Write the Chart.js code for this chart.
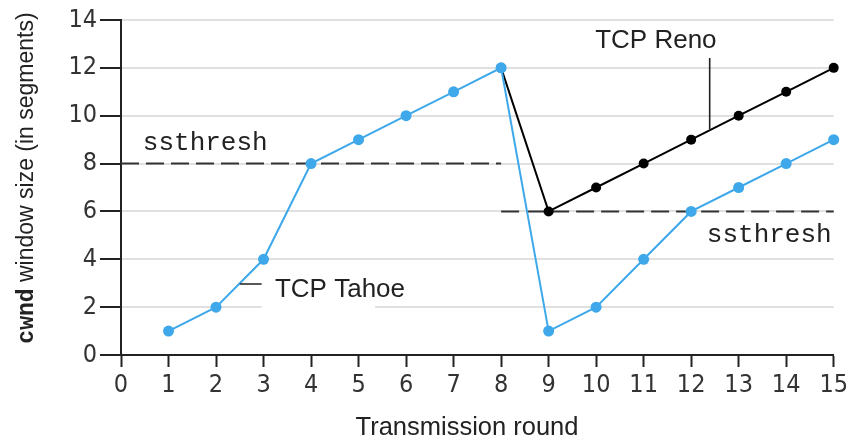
<!DOCTYPE html>
<html>
<head>
<meta charset="utf-8">
<script src="https://cdn.jsdelivr.net/npm/chart.js@4.4.0/dist/chart.umd.min.js"></script>
<style>
  html, body { margin: 0; padding: 0; background: #fff; }
  #wrap { width: 851px; height: 439px; }
</style>
</head>
<body>
<div id="wrap"><canvas id="cwndChart" width="851" height="439"></canvas></div>
<script>
// transmission rounds and congestion window sizes
const rounds = [1, 2, 3, 4, 5, 6, 7, 8, 9, 10, 11, 12, 13, 14, 15];
const tahoeCwnd = [1, 2, 4, 8, 9, 10, 11, 12, 1, 2, 4, 6, 7, 8, 9];
const renoRounds = [8, 9, 10, 11, 12, 13, 14, 15];
const renoCwnd = [12, 6, 7, 8, 9, 10, 11, 12];

// ssthresh levels: [from round, to round, value]
const ssthreshFrom = [0, 8];
const ssthreshTo = [8, 15];
const ssthreshLevel = [8, 6];

const xTicks = [0, 1, 2, 3, 4, 5, 6, 7, 8, 9, 10, 11, 12, 13, 14, 15];
const yTicks = [0, 2, 4, 6, 8, 10, 12, 14];

const BLUE = '#3ea8ea';
const INK = '#222';
const TICK_FONT = "'DejaVu Sans Condensed', 'Liberation Sans Narrow', 'DejaVu Sans', sans-serif";
const SANS = "'Liberation Sans', Arial, sans-serif";
const MONO = "'Liberation Mono', 'Courier New', monospace";

function toPoints(xs, ys) {
    return xs.map((x, i) => ({ x: x, y: ys[i] }));
}

const ssthreshSets = ssthreshLevel.map((lvl, i) => ({
    label: 'ssthresh ' + (i + 1),
    data: [{ x: ssthreshFrom[i], y: lvl }, { x: ssthreshTo[i], y: lvl }],
    borderColor: '#333',
    borderWidth: 2,
    borderDash: [18, 7],
    pointRadius: 0,
    order: 3
}));

// text labels, pointers and axis titles
const annotations = {
    id: 'annotations',
    beforeDatasetsDraw(chart) {
        const { ctx, scales: { x, y } } = chart;
        // the gridline at 2 is broken near the Tahoe label
        ctx.save();
        ctx.strokeStyle = '#fff';
        ctx.lineWidth = 4;
        ctx.beginPath();
        ctx.moveTo(x.getPixelForValue(2.96), y.getPixelForValue(2));
        ctx.lineTo(x.getPixelForValue(5.35), y.getPixelForValue(2));
        ctx.stroke();
        ctx.restore();
    },
    afterDatasetsDraw(chart) {
        const { ctx, scales: { x, y } } = chart;
        ctx.save();
        ctx.fillStyle = INK;
        ctx.strokeStyle = INK;
        ctx.textBaseline = 'alphabetic';
        ctx.textAlign = 'left';

        ctx.font = '26px ' + MONO;
        ctx.fillText('ssthresh', x.getPixelForValue(0.46), y.getPixelForValue(8.57));
        ctx.fillText('ssthresh', x.getPixelForValue(12.33), y.getPixelForValue(4.72));

        ctx.font = '26px ' + SANS;
        ctx.fillText('TCP Reno', x.getPixelForValue(9.98), y.getPixelForValue(12.83));
        ctx.fillText('TCP Tahoe', x.getPixelForValue(3.24), y.getPixelForValue(2.42));

        ctx.lineWidth = 1.6;
        ctx.beginPath();
        ctx.moveTo(x.getPixelForValue(12.39), y.getPixelForValue(12.41));
        ctx.lineTo(x.getPixelForValue(12.39), y.getPixelForValue(9.45));
        ctx.moveTo(x.getPixelForValue(2.5), y.getPixelForValue(2.97));
        ctx.lineTo(x.getPixelForValue(2.96), y.getPixelForValue(2.97));
        ctx.stroke();

        // x title
        ctx.font = '25.5px ' + SANS;
        ctx.textAlign = 'center';
        ctx.fillText('Transmission round', 467, 435);

        // y title, mixed fonts
        const part1 = 'cwnd';
        const part2 = ' window size (in segments)';
        ctx.font = 'bold 23px ' + MONO;
        const w1 = ctx.measureText(part1).width;
        ctx.font = '23px ' + SANS;
        const w2 = ctx.measureText(part2).width;
        ctx.translate(33, 178);
        ctx.rotate(-Math.PI / 2);
        ctx.textAlign = 'left';
        const start = -(w1 + w2) / 2;
        ctx.font = 'bold 23px ' + MONO;
        ctx.fillText(part1, start, 0);
        ctx.font = '23px ' + SANS;
        ctx.fillText(part2, start + w1, 0);
        ctx.restore();
    }
};

const ctx = document.getElementById('cwndChart').getContext('2d');
new Chart(ctx, {
    type: 'line',
    data: {
        datasets: [
            {
                label: 'TCP Tahoe',
                data: toPoints(rounds, tahoeCwnd),
                borderColor: BLUE,
                backgroundColor: BLUE,
                borderWidth: 2,
                pointRadius: 5.5,
                pointBorderWidth: 0,
                order: 1
            },
            {
                label: 'TCP Reno',
                data: toPoints(renoRounds, renoCwnd),
                borderColor: '#000',
                backgroundColor: '#000',
                borderWidth: 2,
                pointRadius: 5,
                pointBorderWidth: 0,
                order: 2
            },
            ...ssthreshSets
        ]
    },
    options: {
        responsive: false,
        animation: false,
        clip: false,
        layout: {
            padding: { left: 0, right: 16, top: 20, bottom: 0 }
        },
        scales: {
            x: {
                type: 'linear',
                min: 0,
                max: 15,
                afterBuildTicks: (scale) => {
                    scale.ticks = xTicks.map(v => ({ value: v }));
                },
                afterFit: (scale) => { scale.height = 84; },
                grid: {
                    drawOnChartArea: false,
                    drawTicks: true,
                    tickLength: 12,
                    tickWidth: 2,
                    tickColor: INK
                },
                border: { display: true, color: INK, width: 2 },
                ticks: {
                    color: '#333',
                    padding: 3,
                    maxRotation: 0,
                    autoSkip: false,
                    font: { family: TICK_FONT, size: 25 }
                }
            },
            y: {
                min: 0,
                max: 14,
                afterBuildTicks: (scale) => {
                    scale.ticks = yTicks.map(v => ({ value: v }));
                },
                afterFit: (scale) => { scale.width = 121; },
                grid: {
                    color: '#e0e0e0',
                    lineWidth: 2,
                    drawTicks: true,
                    tickLength: 21,
                    tickWidth: 2,
                    tickColor: INK
                },
                border: { display: true, color: INK, width: 2 },
                ticks: {
                    color: '#333',
                    padding: 3,
                    autoSkip: false,
                    font: { family: TICK_FONT, size: 25 }
                }
            }
        },
        plugins: {
            legend: { display: false },
            tooltip: { enabled: false },
            title: { display: false }
        }
    },
    plugins: [annotations]
});
</script>
</body>
</html>
